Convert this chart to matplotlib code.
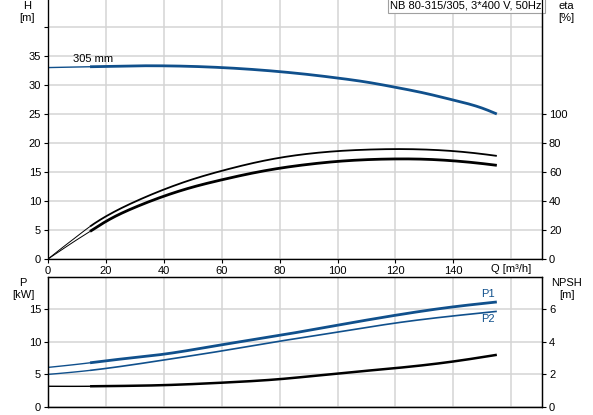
"""Pump curve chart: NB 80-315/305 (head, efficiency, power, NPSH vs flow)."""
import matplotlib
matplotlib.use('Agg')
import matplotlib.pyplot as plt
import numpy as np

plt.rcParams['font.family'] = ['Liberation Sans', 'DejaVu Sans']

# ── Data ─────────────────────────────────────────────────────────────────────
Q_START = 14.5   # start of the duty range (thick part of curves)

q_head = [0, 10, 20, 30, 40, 50, 60, 70, 80, 90, 100, 110, 120, 130, 140, 150, 155]
head = [33.0, 33.1, 33.2, 33.3, 33.3, 33.2, 33.0, 32.7, 32.3, 31.8, 31.2, 30.5,
        29.6, 28.6, 27.4, 26.0, 25.0]

q_eta = [0, 5, 10, 14.5, 20, 30, 40, 50, 60, 70, 80, 90, 100, 110, 120, 130, 140, 150, 155]
eta_upper = [0, 7.9, 15.6, 22.4, 29.4, 39.5, 47.9, 55.0, 60.8, 65.8, 69.8, 72.6, 74.4,
             75.4, 75.8, 75.5, 74.4, 72.4, 71.1]
eta_lower = [0, 6.7, 13.3, 19.0, 25.9, 35.6, 43.3, 49.6, 54.6, 59.0, 62.6, 65.3, 67.3,
             68.5, 69.0, 68.8, 67.7, 65.8, 64.6]

q_pow = [0, 14.5, 20, 40, 60, 80, 100, 120, 140, 155]
p1 = [6.06, 6.77, 7.08, 8.10, 9.55, 11.0, 12.57, 14.1, 15.4, 16.15]
p2 = [4.98, 5.60, 5.90, 7.20, 8.60, 10.1, 11.5, 12.9, 14.0, 14.7]

q_npsh = [0, 14.5, 20, 40, 60, 80, 100, 120, 140, 155]
npsh = [1.26, 1.26, 1.27, 1.33, 1.48, 1.70, 2.05, 2.38, 2.79, 3.20]

TITLE = 'NB 80-315/305, 3*400 V, 50Hz'
IMPELLER = '305 mm'

BLUE = '#10508c'
GRID = '#d4d4d4'
FS = 8


def spline(x, y, n=300):
    """Natural cubic spline through the read-off points."""
    x = np.asarray(x, float)
    y = np.asarray(y, float)
    k = len(x)
    h = np.diff(x)
    A = np.zeros((k, k))
    r = np.zeros(k)
    A[0, 0] = A[-1, -1] = 1
    for i in range(1, k - 1):
        A[i, i - 1] = h[i - 1]
        A[i, i] = 2 * (h[i - 1] + h[i])
        A[i, i + 1] = h[i]
        r[i] = 6 * ((y[i + 1] - y[i]) / h[i] - (y[i] - y[i - 1]) / h[i - 1])
    m = np.linalg.solve(A, r)
    xs = np.linspace(x[0], x[-1], n)
    j = np.clip(np.searchsorted(x, xs) - 1, 0, k - 2)
    t0 = x[j + 1] - xs
    t1 = xs - x[j]
    hj = h[j]
    ys = (m[j] * t0 ** 3 + m[j + 1] * t1 ** 3) / (6 * hj) \
        + (y[j] / hj - m[j] * hj / 6) * t0 + (y[j + 1] / hj - m[j + 1] * hj / 6) * t1
    return xs, ys


def split_plot(ax, x, y, color, thick, thin=0.7):
    """Draw thin segment before Q_START and thick from there on."""
    xs, ys = spline(x, y)
    pre = xs <= Q_START + 0.3
    post = xs >= Q_START
    ax.plot(xs[pre], ys[pre], color=color, lw=thin, solid_capstyle='butt')
    ax.plot(xs[post], ys[post], color=color, lw=thick, solid_capstyle='butt')


def style_axis(ax):
    ax.grid(True, color=GRID, lw=1.1)
    ax.set_axisbelow(True)
    ax.tick_params(labelsize=FS, length=3, width=0.8, pad=2)
    for s in ax.spines.values():
        s.set_linewidth(0.9)


fig = plt.figure(figsize=(5.93, 4.15), dpi=100)

# ── Top panel: head + efficiency ─────────────────────────────────────────────
ax = fig.add_axes([48 / 593, 1 - 259 / 415, 494 / 593, 259 / 415])
ax.set_xlim(0, 170.6)
ax.set_ylim(0, 44.65)
ax.set_xticks(range(0, 161, 20))
ax.set_xticklabels([str(v) for v in range(0, 141, 20)] + [''])
ax.set_yticks(range(0, 41, 5))
ax.set_yticklabels([str(v) for v in range(0, 36, 5)] + [''])
ax.spines['top'].set_visible(False)
style_axis(ax)
ax.yaxis.get_major_ticks()[-1].tick1line.set_visible(False)
ax.xaxis.get_major_ticks()[-1].tick1line.set_visible(False)

split_plot(ax, q_head, head, BLUE, 2.0, thin=1.0)
ax.text(8.5, 33.6, IMPELLER, fontsize=FS, va='bottom', ha='left')

ax.text(1.0, 1.0, TITLE, transform=ax.transAxes, fontsize=FS, ha='right', va='top',
        bbox=dict(boxstyle='square,pad=0.25', fc='white', ec='#a0a0a0', lw=0.8))
ax.text(160, -0.9, 'Q [m³/h]', fontsize=FS, ha='center', va='top')
fig.text(27 / 593, 1 - 6 / 415, 'H', fontsize=FS, ha='center', va='center')
fig.text(27 / 593, 1 - 18 / 415, '[m]', fontsize=FS, ha='center', va='center')
fig.text(566 / 593, 1 - 6 / 415, 'eta', fontsize=FS, ha='center', va='center')
fig.text(566 / 593, 1 - 18 / 415, '[%]', fontsize=FS, ha='center', va='center')

ax2 = ax.twinx()
ax2.set_ylim(0, 44.65 * 4)
ax2.set_yticks(range(0, 101, 20))
ax2.tick_params(labelsize=FS, length=3, width=0.8, pad=2)
ax2.spines['top'].set_visible(False)
ax2.spines['right'].set_linewidth(0.9)
split_plot(ax2, q_eta, eta_upper, 'black', 1.3)
split_plot(ax2, q_eta, eta_lower, 'black', 2.0)

# ── Bottom panel: power + NPSH ───────────────────────────────────────────────
bx = fig.add_axes([48 / 593, 1 - 406.7 / 415, 494 / 593, 129.7 / 415])
bx.set_xlim(0, 170.6)
bx.set_ylim(0, 20)
bx.set_xticks(range(0, 161, 20))
bx.set_xticklabels([])
bx.set_yticks([0, 5, 10, 15])
style_axis(bx)
bx.tick_params(axis='x', length=0)

split_plot(bx, q_pow, p1, BLUE, 2.0, thin=1.0)
split_plot(bx, q_pow, p2, BLUE, 1.2, thin=1.0)
bx.text(152, p1[-1] + 0.4, 'P1', fontsize=FS, color=BLUE, ha='center', va='bottom')
bx.text(152, p2[-1] - 0.4, 'P2', fontsize=FS, color=BLUE, ha='center', va='top')

fig.text(23 / 593, 1 - 283 / 415, 'P', fontsize=FS, ha='center', va='center')
fig.text(23 / 593, 1 - 295 / 415, '[kW]', fontsize=FS, ha='center', va='center')
fig.text(567 / 593, 1 - 283 / 415, 'NPSH', fontsize=FS, ha='center', va='center')
fig.text(567 / 593, 1 - 295 / 415, '[m]', fontsize=FS, ha='center', va='center')

bx2 = bx.twinx()
bx2.set_ylim(0, 8)
bx2.set_yticks([0, 2, 4, 6])
bx2.tick_params(labelsize=FS, length=3, width=0.8, pad=2)
for s in bx2.spines.values():
    s.set_linewidth(0.9)
split_plot(bx2, q_npsh, npsh, 'black', 1.8, thin=1.0)

fig.savefig('out.png', dpi=100)
